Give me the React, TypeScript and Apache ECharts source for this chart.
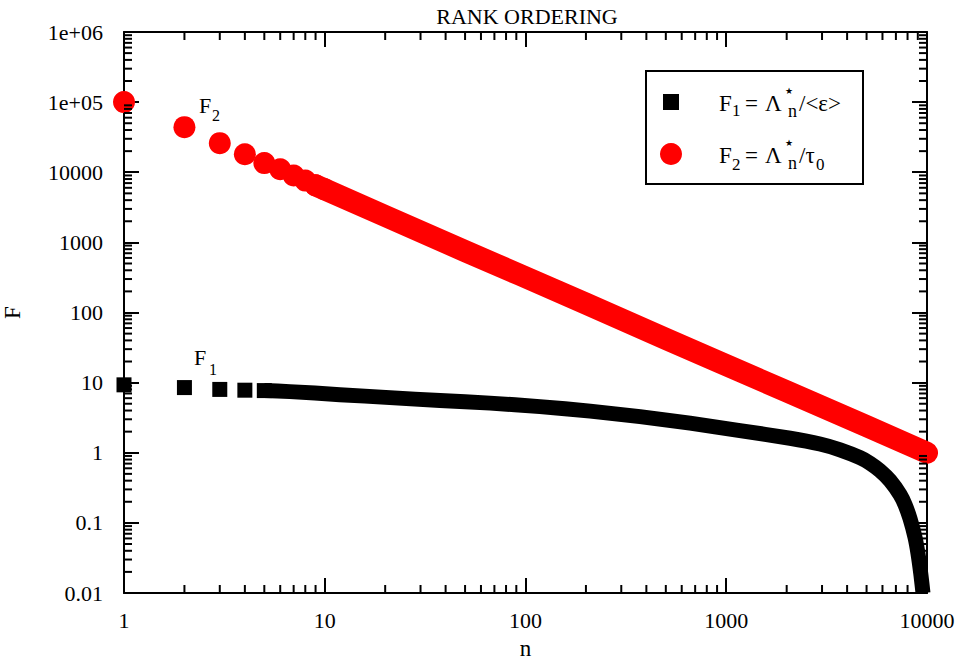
import React, { useEffect, useRef } from 'react';
import * as echarts from 'echarts';

const chartTitle = 'RANK ORDERING';
const xName = 'n';
const yName = 'F';
const xTickValues = [1, 10, 100, 1000, 10000];
const xTickLabels = ['1', '10', '100', '1000', '10000'];
const yTickValues = [0.01, 0.1, 1, 10, 100, 1000, 10000, 100000, 1000000];
const yTickLabels = ['0.01', '0.1', '1', '10', '100', '1000', '10000', '1e+05', '1e+06'];

// F2 = Λ*n/τ0 (red circles): distinct markers and the dense band
const f2MarkerN = [1, 2, 3, 4, 5, 6, 7, 8, 9, 10];
const f2MarkerF = [100000, 44000, 26000, 18000, 13500, 11000, 9000, 7600, 6500, 5700];
const f2BandN = [9, 10, 20, 50, 93, 200, 500, 923, 2000, 5000, 10000];
const f2BandF = [6500, 5700, 2380, 750, 348, 134, 42, 19.6, 7.5, 2.4, 1.0];

// F1 = Λ*n/<ε> (black squares)
const f1MarkerN = [1, 2, 3, 4, 5];
const f1MarkerF = [9.3, 8.5, 8.0, 7.8, 7.7];
const f1BandN = [5, 6.7, 11.9, 21.1, 37.5, 66.6, 118, 210, 372, 660, 1170, 2080, 2930, 3690, 4640, 5200, 5830, 6550, 7350, 7770, 8230, 8710, 9010, 9330, 9550];
const f1BandF = [7.7, 7.44, 6.74, 6.11, 5.54, 5.1, 4.55, 3.92, 3.27, 2.64, 2.07, 1.61, 1.33, 1.1, 0.85, 0.71, 0.556, 0.4, 0.252, 0.182, 0.115, 0.0625, 0.037, 0.018, 0.01];

const FONT = '"Liberation Serif", "Times New Roman", serif';
const X_MIN = 1;
const X_MAX = 10000;
const Y_MIN = 0.01;
const Y_MAX = 1000000;

const pairs = (a: number[], b: number[]) => a.map((v, i) => [v, b[i]]);

function minorTicks(decadeStarts: number[]) {
  const out: number[] = [];
  decadeStarts.forEach((d) => {
    for (let k = 2; k <= 9; k++) out.push(parseFloat((k * d).toPrecision(6)));
  });
  return out;
}

const minorX = minorTicks([1, 10, 100, 1000]);
const minorY = minorTicks([0.01, 0.1, 1, 10, 100, 1000, 10000, 100000]);

const frameLine = { color: '#000', width: 2 };
const MAJOR_LEN = 15;
const MINOR_LEN = 8;
const TICK_W = 2;

// minor tick marks: thin rect symbols anchored on the frame, placed by the axes' scales
function minorTickItems() {
  const items: any[] = [];
  minorX.forEach((v) => {
    items.push({ value: [v, Y_MIN], symbolSize: [TICK_W, MINOR_LEN], symbolOffset: [0, -MINOR_LEN / 2] });
    items.push({ value: [v, Y_MAX], symbolSize: [TICK_W, MINOR_LEN], symbolOffset: [0, MINOR_LEN / 2] });
  });
  minorY.forEach((v) => {
    items.push({ value: [X_MIN, v], symbolSize: [MINOR_LEN, TICK_W], symbolOffset: [MINOR_LEN / 2, 0] });
    items.push({ value: [X_MAX, v], symbolSize: [MINOR_LEN, TICK_W], symbolOffset: [-MINOR_LEN / 2, 0] });
  });
  return items;
}

function axis(min: number, max: number, position: string, extra: any = {}) {
  return {
    type: 'log',
    logBase: 10,
    min,
    max,
    interval: 1,
    position,
    splitLine: { show: false },
    axisLine: { show: true, onZero: false, lineStyle: frameLine },
    axisTick: { show: true, inside: true, length: MAJOR_LEN, lineStyle: { color: '#000', width: TICK_W } },
    axisLabel: { show: false },
    ...extra,
  };
}

const expIndex = (v: number, offset: number) => Math.round(Math.log10(v)) + offset;

function txt(text: string, x: number, y: number, size: number, align = 'left', z = 0, family = FONT) {
  return {
    type: 'text',
    x,
    y,
    z,
    style: { text, fontFamily: family, fontSize: size, fill: '#000', align, verticalAlign: 'middle' },
  };
}

const graphic: any[] = [
  txt(chartTitle, 527, 16, 22, 'center'),
  // curve annotations
  txt('F', 199, 105, 22),
  txt('2', 212, 115, 16),
  txt('F', 194, 357, 22),
  txt('1', 209, 369, 16),
  // legend box
  {
    type: 'rect',
    shape: { x: 646, y: 71, width: 217, height: 113 },
    style: { fill: '#fff', stroke: '#000', lineWidth: 2 },
    z: 10,
  },
  { type: 'rect', shape: { x: 663, y: 94, width: 16, height: 16 }, style: { fill: '#000' }, z: 11 },
  { type: 'circle', shape: { cx: 671, cy: 154, r: 11 }, style: { fill: '#ff0000' }, z: 11 },
  txt('F', 719, 103, 23, 'left', 12),
  txt('1', 732, 110, 17, 'left', 12),
  txt('=', 745, 103, 23, 'left', 12),
  txt('Λ', 765, 103, 23, 'left', 12),
  txt('★', 785, 91, 9, 'left', 12, '"DejaVu Sans", sans-serif'),
  txt('n', 788, 111, 18, 'left', 12),
  txt('/<ε>', 799, 103, 23, 'left', 12),
  txt('F', 719, 155, 23, 'left', 12),
  txt('2', 732, 164, 17, 'left', 12),
  txt('=', 745, 155, 23, 'left', 12),
  txt('Λ', 765, 155, 23, 'left', 12),
  txt('★', 785, 143, 9, 'left', 12, '"DejaVu Sans", sans-serif'),
  txt('n', 788, 163, 18, 'left', 12),
  txt('/τ', 799, 155, 23, 'left', 12),
  txt('0', 816, 164, 17, 'left', 12),
];

const option: any = {
  animation: false,
  backgroundColor: '#fff',
  grid: { left: 124, right: 38, top: 32, bottom: 74, outerBoundsMode: 'none' },
  xAxis: [
    axis(X_MIN, X_MAX, 'bottom', {
      axisLabel: {
        show: true,
        fontFamily: FONT,
        fontSize: 22,
        color: '#000',
        margin: 16,
        formatter: (v: number) => xTickLabels[expIndex(v, 0)] ?? '',
      },
      name: xName,
      nameLocation: 'middle',
      nameGap: 44,
      nameTextStyle: { fontFamily: FONT, fontSize: 23, color: '#000' },
    }),
    axis(X_MIN, X_MAX, 'top'),
  ],
  yAxis: [
    axis(Y_MIN, Y_MAX, 'left', {
      axisLabel: {
        show: true,
        fontFamily: FONT,
        fontSize: 22,
        color: '#000',
        margin: 21,
        formatter: (v: number) => yTickLabels[expIndex(v, 2)] ?? '',
      },
      name: yName,
      nameLocation: 'middle',
      nameGap: 100,
      nameTextStyle: { fontFamily: FONT, fontSize: 23, color: '#000' },
    }),
    axis(Y_MIN, Y_MAX, 'right'),
  ],
  series: [
    {
      type: 'scatter',
      name: 'minor ticks',
      xAxisIndex: 0,
      yAxisIndex: 0,
      data: minorTickItems(),
      symbol: 'rect',
      clip: false,
      silent: true,
      z: 5,
      itemStyle: { color: '#000', opacity: 1 },
    },
    {
      type: 'line',
      name: 'F1 band',
      xAxisIndex: 0,
      yAxisIndex: 0,
      data: pairs(f1BandN, f1BandF),
      symbol: 'none',
      smooth: 0.2,
      clip: false,
      silent: true,
      lineStyle: { color: '#000', width: 15, cap: 'butt', join: 'round', opacity: 1 },
    },
    {
      type: 'scatter',
      name: 'F1',
      xAxisIndex: 0,
      yAxisIndex: 0,
      data: pairs(f1MarkerN, f1MarkerF),
      symbol: 'rect',
      symbolSize: 15,
      clip: false,
      itemStyle: { color: '#000', opacity: 1 },
    },
    {
      type: 'line',
      name: 'F2 band',
      xAxisIndex: 0,
      yAxisIndex: 0,
      data: pairs(f2BandN, f2BandF),
      symbol: 'none',
      clip: false,
      silent: true,
      lineStyle: { color: '#ff0000', width: 22, cap: 'round', join: 'round', opacity: 1 },
    },
    {
      type: 'scatter',
      name: 'F2',
      xAxisIndex: 0,
      yAxisIndex: 0,
      data: pairs(f2MarkerN, f2MarkerF),
      symbol: 'circle',
      symbolSize: 22,
      clip: false,
      itemStyle: { color: '#ff0000', opacity: 1 },
    },
  ],
  graphic,
};

export default function App() {
  const ref = useRef<HTMLDivElement>(null);
  useEffect(() => {
    const chart = echarts.init(ref.current!, null, { renderer: 'svg' });
    chart.setOption(option);
    return () => chart.dispose();
  }, []);
  return (
    <div
      ref={ref}
      style={{ position: 'fixed', left: 0, top: 0, width: 965, height: 667, background: '#fff' }}
    />
  );
}
